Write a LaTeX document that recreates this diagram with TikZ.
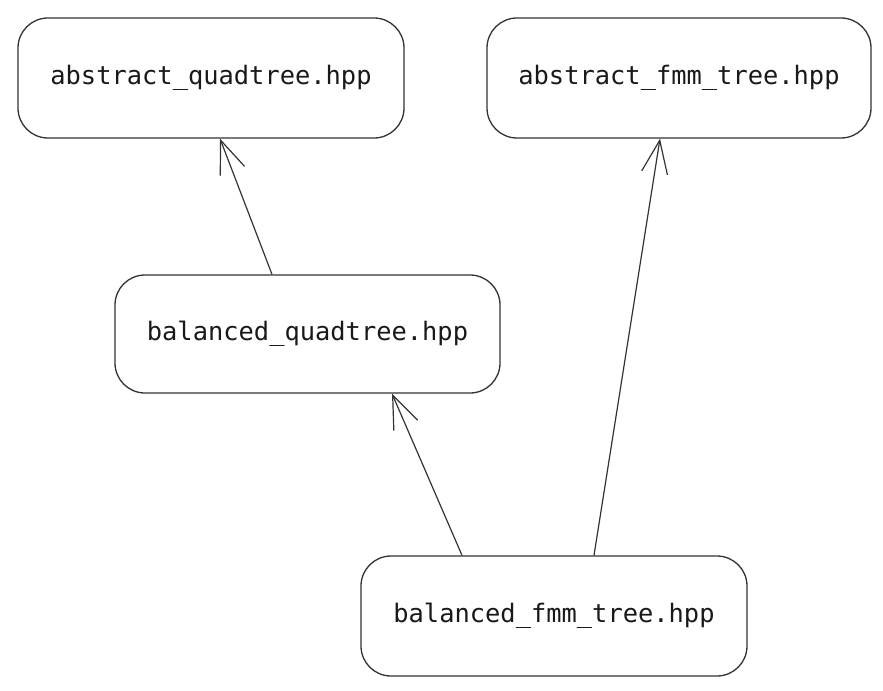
\documentclass[tikz,border=0pt]{standalone}
\usepackage{fontspec}
\setmonofont{DejaVu Sans Mono}
\usetikzlibrary{arrows.meta}
\definecolor{linec}{HTML}{333333}
\tikzset{
  filebox/.style={draw=linec, line width=1.3bp, rounded corners=30bp, minimum width=386bp, minimum height=120bp, inner sep=0pt, font=\fontsize{25.5}{30}\selectfont\ttfamily, text=black!90},
  dep/.style={draw=linec, line width=1.2bp, -{Straight Barb[length=33bp,width=26bp,line width=1.2bp]}}
}
\begin{document}
\begin{tikzpicture}[x=1bp,y=-1bp]
\useasboundingbox (0,0) rectangle (883,691);
\node[filebox] (aq) at (211,78) {abstract\_quadtree.hpp};
\node[filebox, minimum width=384bp] (af) at (679,78) {abstract\_fmm\_tree.hpp};
\node[filebox, minimum width=385bp, minimum height=118bp] (bq) at (307.5,334) {balanced\_quadtree.hpp};
\node[filebox] (bf) at (554,616) {balanced\_fmm\_tree.hpp};
\draw[dep] ([xshift=-35.5bp]bq.north) -- ([xshift=9bp]aq.south);
\draw[dep] ([xshift=-92bp]bf.north) -- ([xshift=84.5bp]bq.south);
\draw[dep] ([xshift=40bp]bf.north) -- ([xshift=-19bp]af.south);
\end{tikzpicture}
\end{document}
